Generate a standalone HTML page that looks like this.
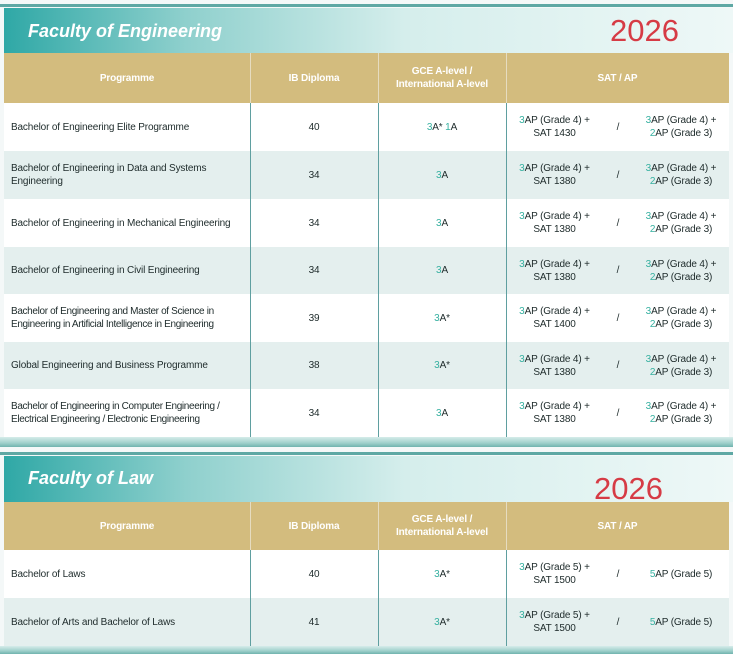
<!DOCTYPE html>
<html><head><meta charset="utf-8"><style>
*{margin:0;padding:0;box-sizing:border-box}
body{width:733px;height:654px;background:#f4f8f8;position:relative;overflow:hidden;font-family:"Liberation Sans",sans-serif;color:#1d2a2a}
.line{position:absolute;left:0;width:733px;height:3px;background:#5ea8a4}
.band{position:absolute;left:4px;width:729px;background:linear-gradient(90deg,#2fa8a6 0%,#8fd0cd 25%,#d5eeec 55%,#eef8f7 100%)}
.band .t{position:absolute;left:24px;color:#fff;font-weight:bold;font-style:italic;font-size:18px}
.yr{position:absolute;color:#d63b45;font-size:31px}
.hdr{position:absolute;left:4px;width:725px;background:#d3bc7e}
.c{position:absolute;display:flex;align-items:center;font-size:10px;line-height:13px;white-space:nowrap;letter-spacing:-0.15px}
.h{color:#fff;font-weight:bold;justify-content:center;text-align:center}
.row{position:absolute;left:4px;width:725px}
.vl{position:absolute;width:1px;background:#5f9fa0}
.vh{position:absolute;width:1px;background:#e6dcc0}
.g{color:#35b0a0}
.cc{justify-content:center;text-align:center}
.foot{position:absolute;left:0;width:733px;background:linear-gradient(180deg,#d6ecea,#9fd0cb 60%,#6fb3ae)}
</style></head><body>
<div class="line" style="top:4px"></div>
<div class="band" style="top:8px;height:45px"><div class="t" style="top:13px">Faculty of Engineering</div></div>
<div class="yr" style="left:610px;top:13px">2026</div>
<div class="hdr" style="top:53px;height:50px"></div>
<div class="c h" style="left:4px;width:246px;top:53px;height:50px">Programme</div>
<div class="c h" style="left:250px;width:128px;top:53px;height:50px">IB Diploma</div>
<div class="c h" style="left:378px;width:128px;top:53px;height:50px">GCE A-level /<br>International A-level</div>
<div class="c h" style="left:506px;width:223px;top:53px;height:50px">SAT / AP</div>
<div class="vh" style="left:250px;top:53px;height:50px"></div>
<div class="vh" style="left:378px;top:53px;height:50px"></div>
<div class="vh" style="left:506px;top:53px;height:50px"></div>

<div class="row" style="top:103px;height:48px;background:#fff"></div>
<div class="row" style="top:151px;height:48px;background:#e4efee"></div>
<div class="row" style="top:199px;height:48px;background:#fff"></div>
<div class="row" style="top:247px;height:47px;background:#e4efee"></div>
<div class="row" style="top:294px;height:48px;background:#fff"></div>
<div class="row" style="top:342px;height:47px;background:#e4efee"></div>
<div class="row" style="top:389px;height:48px;background:#fff"></div>
<div class="vl" style="left:250px;top:103px;height:334px"></div>
<div class="vl" style="left:378px;top:103px;height:334px"></div>
<div class="vl" style="left:506px;top:103px;height:334px"></div>

<div class="c" style="left:11px;width:236px;top:103px;height:48px">Bachelor of Engineering Elite Programme</div>
<div class="c cc" style="left:250px;width:128px;top:103px;height:48px">40</div>
<div class="c cc" style="left:378px;width:128px;top:103px;height:48px"><span><span class="g">3</span>A* <span class="g">1</span>A</span></div>
<div class="c cc" style="left:506px;width:97px;top:103px;height:48px"><span><span class="g">3</span>AP (Grade 4) +<br>SAT 1430</span></div>
<div class="c cc" style="left:603px;width:30px;top:103px;height:48px">/</div>
<div class="c cc" style="left:633px;width:96px;top:103px;height:48px"><span><span class="g">3</span>AP (Grade 4) +<br><span class="g">2</span>AP (Grade 3)</span></div>

<div class="c" style="left:11px;width:236px;top:151px;height:48px">Bachelor of Engineering in Data and Systems<br>Engineering</div>
<div class="c cc" style="left:250px;width:128px;top:151px;height:48px">34</div>
<div class="c cc" style="left:378px;width:128px;top:151px;height:48px"><span><span class="g">3</span>A</span></div>
<div class="c cc" style="left:506px;width:97px;top:151px;height:48px"><span><span class="g">3</span>AP (Grade 4) +<br>SAT 1380</span></div>
<div class="c cc" style="left:603px;width:30px;top:151px;height:48px">/</div>
<div class="c cc" style="left:633px;width:96px;top:151px;height:48px"><span><span class="g">3</span>AP (Grade 4) +<br><span class="g">2</span>AP (Grade 3)</span></div>

<div class="c" style="left:11px;width:236px;top:199px;height:48px">Bachelor of Engineering in Mechanical Engineering</div>
<div class="c cc" style="left:250px;width:128px;top:199px;height:48px">34</div>
<div class="c cc" style="left:378px;width:128px;top:199px;height:48px"><span><span class="g">3</span>A</span></div>
<div class="c cc" style="left:506px;width:97px;top:199px;height:48px"><span><span class="g">3</span>AP (Grade 4) +<br>SAT 1380</span></div>
<div class="c cc" style="left:603px;width:30px;top:199px;height:48px">/</div>
<div class="c cc" style="left:633px;width:96px;top:199px;height:48px"><span><span class="g">3</span>AP (Grade 4) +<br><span class="g">2</span>AP (Grade 3)</span></div>

<div class="c" style="left:11px;width:236px;top:247px;height:47px">Bachelor of Engineering in Civil Engineering</div>
<div class="c cc" style="left:250px;width:128px;top:247px;height:47px">34</div>
<div class="c cc" style="left:378px;width:128px;top:247px;height:47px"><span><span class="g">3</span>A</span></div>
<div class="c cc" style="left:506px;width:97px;top:247px;height:47px"><span><span class="g">3</span>AP (Grade 4) +<br>SAT 1380</span></div>
<div class="c cc" style="left:603px;width:30px;top:247px;height:47px">/</div>
<div class="c cc" style="left:633px;width:96px;top:247px;height:47px"><span><span class="g">3</span>AP (Grade 4) +<br><span class="g">2</span>AP (Grade 3)</span></div>

<div class="c" style="left:11px;width:236px;top:294px;height:48px;letter-spacing:-0.35px">Bachelor of Engineering and Master of Science in<br>Engineering in Artificial Intelligence in Engineering</div>
<div class="c cc" style="left:250px;width:128px;top:294px;height:48px">39</div>
<div class="c cc" style="left:378px;width:128px;top:294px;height:48px"><span><span class="g">3</span>A*</span></div>
<div class="c cc" style="left:506px;width:97px;top:294px;height:48px"><span><span class="g">3</span>AP (Grade 4) +<br>SAT 1400</span></div>
<div class="c cc" style="left:603px;width:30px;top:294px;height:48px">/</div>
<div class="c cc" style="left:633px;width:96px;top:294px;height:48px"><span><span class="g">3</span>AP (Grade 4) +<br><span class="g">2</span>AP (Grade 3)</span></div>

<div class="c" style="left:11px;width:236px;top:342px;height:47px">Global Engineering and Business Programme</div>
<div class="c cc" style="left:250px;width:128px;top:342px;height:47px">38</div>
<div class="c cc" style="left:378px;width:128px;top:342px;height:47px"><span><span class="g">3</span>A*</span></div>
<div class="c cc" style="left:506px;width:97px;top:342px;height:47px"><span><span class="g">3</span>AP (Grade 4) +<br>SAT 1380</span></div>
<div class="c cc" style="left:603px;width:30px;top:342px;height:47px">/</div>
<div class="c cc" style="left:633px;width:96px;top:342px;height:47px"><span><span class="g">3</span>AP (Grade 4) +<br><span class="g">2</span>AP (Grade 3)</span></div>

<div class="c" style="left:11px;width:236px;top:389px;height:48px;letter-spacing:-0.35px">Bachelor of Engineering in Computer Engineering /<br>Electrical Engineering / Electronic Engineering</div>
<div class="c cc" style="left:250px;width:128px;top:389px;height:48px">34</div>
<div class="c cc" style="left:378px;width:128px;top:389px;height:48px"><span><span class="g">3</span>A</span></div>
<div class="c cc" style="left:506px;width:97px;top:389px;height:48px"><span><span class="g">3</span>AP (Grade 4) +<br>SAT 1380</span></div>
<div class="c cc" style="left:603px;width:30px;top:389px;height:48px">/</div>
<div class="c cc" style="left:633px;width:96px;top:389px;height:48px"><span><span class="g">3</span>AP (Grade 4) +<br><span class="g">2</span>AP (Grade 3)</span></div>

<div class="foot" style="top:437px;height:10px"></div>
<div class="line" style="top:452px"></div>

<div class="band" style="top:456px;height:46px"><div class="t" style="top:12px">Faculty of Law</div></div>
<div class="yr" style="left:594px;top:471px">2026</div>
<div class="hdr" style="top:502px;height:48px"></div>
<div class="c h" style="left:4px;width:246px;top:502px;height:48px">Programme</div>
<div class="c h" style="left:250px;width:128px;top:502px;height:48px">IB Diploma</div>
<div class="c h" style="left:378px;width:128px;top:502px;height:48px">GCE A-level /<br>International A-level</div>
<div class="c h" style="left:506px;width:223px;top:502px;height:48px">SAT / AP</div>
<div class="vh" style="left:250px;top:502px;height:48px"></div>
<div class="vh" style="left:378px;top:502px;height:48px"></div>
<div class="vh" style="left:506px;top:502px;height:48px"></div>

<div class="row" style="top:550px;height:48px;background:#fff"></div>
<div class="row" style="top:598px;height:48px;background:#e4efee"></div>
<div class="vl" style="left:250px;top:550px;height:96px"></div>
<div class="vl" style="left:378px;top:550px;height:96px"></div>
<div class="vl" style="left:506px;top:550px;height:96px"></div>

<div class="c" style="left:11px;width:236px;top:550px;height:48px">Bachelor of Laws</div>
<div class="c cc" style="left:250px;width:128px;top:550px;height:48px">40</div>
<div class="c cc" style="left:378px;width:128px;top:550px;height:48px"><span><span class="g">3</span>A*</span></div>
<div class="c cc" style="left:506px;width:97px;top:550px;height:48px"><span><span class="g">3</span>AP (Grade 5) +<br>SAT 1500</span></div>
<div class="c cc" style="left:603px;width:30px;top:550px;height:48px">/</div>
<div class="c cc" style="left:633px;width:96px;top:550px;height:48px"><span><span class="g">5</span>AP (Grade 5)</span></div>

<div class="c" style="left:11px;width:236px;top:598px;height:48px">Bachelor of Arts and Bachelor of Laws</div>
<div class="c cc" style="left:250px;width:128px;top:598px;height:48px">41</div>
<div class="c cc" style="left:378px;width:128px;top:598px;height:48px"><span><span class="g">3</span>A*</span></div>
<div class="c cc" style="left:506px;width:97px;top:598px;height:48px"><span><span class="g">3</span>AP (Grade 5) +<br>SAT 1500</span></div>
<div class="c cc" style="left:603px;width:30px;top:598px;height:48px">/</div>
<div class="c cc" style="left:633px;width:96px;top:598px;height:48px"><span><span class="g">5</span>AP (Grade 5)</span></div>

<div class="foot" style="top:646px;height:8px"></div>
</body></html>
